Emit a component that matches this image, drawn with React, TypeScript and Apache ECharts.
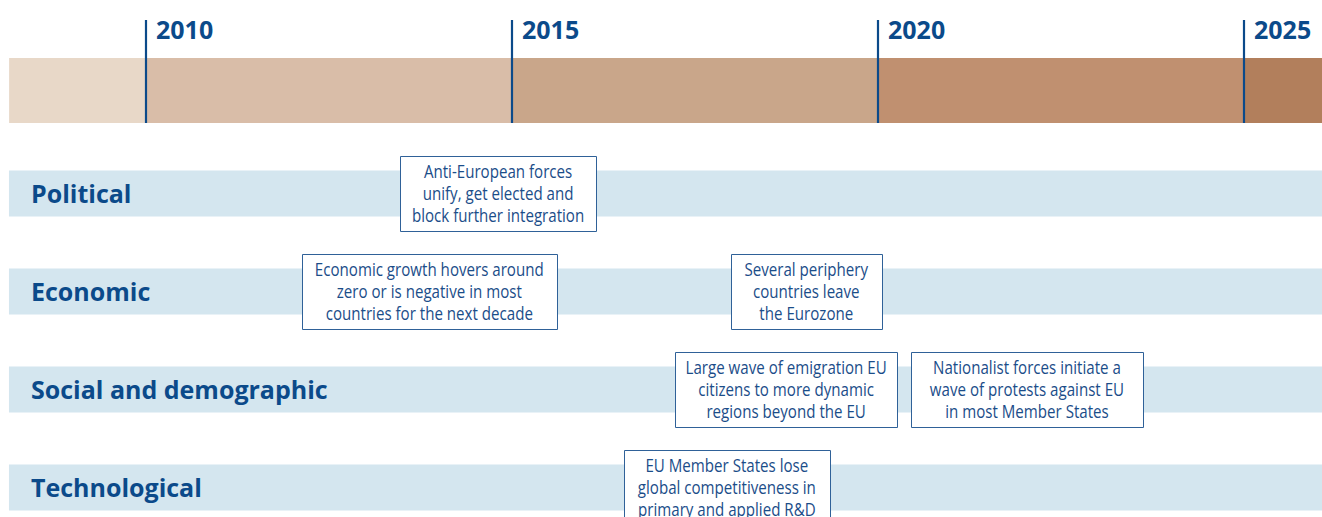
import React, { useEffect, useRef } from "react";
import * as echarts from "echarts";

// ---- data ----
const periodStarts = [2008.13, 2010, 2015, 2020, 2025];
const periodEnds = [2010, 2015, 2020, 2025, 2026.07];
const yearMarks = [2010, 2015, 2020, 2025];
const rowNames = ["Political", "Economic", "Social and demographic", "Technological"];
const eventRows = [1, 2, 2, 3, 3, 4];
const eventStarts = [2013.47, 2012.13, 2017.99, 2017.23, 2020.45, 2016.53];
const eventEnds = [2016.15, 2015.61, 2020.05, 2020.26, 2023.62, 2019.34];
const eventTexts = [
  "Anti-European forces\nunify, get elected and\nblock further integration",
  "Economic growth hovers around\nzero or is negative in most\ncountries for the next decade",
  "Several periphery\ncountries leave\nthe Eurozone",
  "Large wave of emigration EU\ncitizens to more dynamic\nregions beyond the EU",
  "Nationalist forces initiate a\nwave of protests against EU\nin most Member States",
  "EU Member States lose\nglobal competitiveness in\nprimary and applied R&D",
];

// ---- style / layout ----
const periodColors = ["#E8D8C8", "#D9BDA8", "#C9A68A", "#C09070", "#B27F5C"];
const BLUE = "#0B4A8A";
const TEXT_BLUE = "#1B4D89";
const ROW_COLOR = "#D4E6EF";
const X_MIN = 2008.0055;
const X_MAX = 2026.0656;
const Y_MIN = -0.9745;
const Y_MAX = 4.301;
const TIMELINE_CENTER = -0.051;

export default function App() {
  const ref = useRef<HTMLDivElement>(null);
  useEffect(() => {
    document.body.style.margin = "0";
    const chart = echarts.init(ref.current!, undefined, { renderer: "svg" });

    const periodData = periodStarts.map((s, i) => [s, periodEnds[i], i]);
    const rowData = rowNames.map((n, i) => [X_MIN + 0.1225, X_MAX, i + 1]);
    const eventData = eventStarts.map((s, i) => [s, eventEnds[i], eventRows[i], i]);
    const markData = yearMarks.map((y) => [y]);

    const option: any = {
      animation: false,
      grid: { left: 0, right: 0, top: 0, bottom: 0 },
      xAxis: { type: "value", min: X_MIN, max: X_MAX, show: false },
      yAxis: { type: "value", min: Y_MIN, max: Y_MAX, inverse: true, show: false },
      series: [
        {
          type: "custom",
          clip: false,
          data: periodData,
          renderItem: (params: any, api: any) => {
            const unit = api.size([0, 1])[1];
            const a = api.coord([api.value(0), TIMELINE_CENTER]);
            const b = api.coord([api.value(1), TIMELINE_CENTER]);
            const h = unit * 0.663;
            return {
              type: "rect",
              shape: { x: a[0], y: a[1] - h / 2, width: b[0] - a[0], height: h },
              style: { fill: periodColors[api.value(2)] },
            };
          },
        },
        {
          type: "custom",
          clip: false,
          data: markData,
          z: 3,
          renderItem: (params: any, api: any) => {
            const unit = api.size([0, 1])[1];
            const p = api.coord([api.value(0), TIMELINE_CENTER]);
            const bottom = p[1] + unit * 0.3315;
            const top = 20;
            return {
              type: "group",
              children: [
                {
                  type: "line",
                  shape: { x1: p[0], y1: top, x2: p[0], y2: bottom },
                  style: { stroke: BLUE, lineWidth: 2.2 },
                },
                {
                  type: "text",
                  x: p[0] + 10,
                  y: top + 9,
                  style: {
                    text: String(api.value(0)),
                    fill: BLUE,
                    font: "bold 25px 'Open Sans'",
                    align: "left",
                    verticalAlign: "middle",
                  },
                },
              ],
            };
          },
        },
        {
          type: "custom",
          clip: false,
          data: rowData,
          renderItem: (params: any, api: any) => {
            const unit = api.size([0, 1])[1];
            const a = api.coord([api.value(0), api.value(2)]);
            const b = api.coord([api.value(1), api.value(2)]);
            const h = unit * 0.47;
            return {
              type: "group",
              children: [
                {
                  type: "rect",
                  shape: { x: a[0], y: a[1] - h / 2, width: b[0] - a[0], height: h },
                  style: { fill: ROW_COLOR },
                },
                {
                  type: "text",
                  x: a[0] + 22,
                  y: a[1] - 1,
                  style: {
                    text: rowNames[params.dataIndex],
                    fill: BLUE,
                    font: "bold 25px 'Open Sans'",
                    align: "left",
                    verticalAlign: "middle",
                  },
                },
              ],
            };
          },
        },
        {
          type: "custom",
          clip: false,
          data: eventData,
          z: 4,
          renderItem: (params: any, api: any) => {
            const unit = api.size([0, 1])[1];
            const a = api.coord([api.value(0), api.value(2)]);
            const b = api.coord([api.value(1), api.value(2)]);
            const h = unit * 0.765;
            const idx = api.value(3);
            return {
              type: "group",
              children: [
                {
                  type: "rect",
                  shape: { x: Math.round(a[0]) + 0.5, y: Math.round(a[1] - h / 2) + 0.5, width: Math.round(b[0] - a[0]), height: Math.round(h) },
                  style: { fill: "#FFFFFF", stroke: "#2F6198", lineWidth: 1 },
                },
                {
                  type: "text",
                  x: (a[0] + b[0]) / 2,
                  y: a[1] - 1,
                  scaleX: 0.84,
                  style: {
                    text: eventTexts[idx],
                    fill: TEXT_BLUE,
                    font: "18px 'Open Sans'",
                    lineHeight: 22,
                    align: "center",
                    verticalAlign: "middle",
                  },
                },
              ],
            };
          },
        },
      ],
    };
    chart.setOption(option);
    return () => chart.dispose();
  }, []);
  return <div ref={ref} style={{ width: 1322, height: 517 }} />;
}
